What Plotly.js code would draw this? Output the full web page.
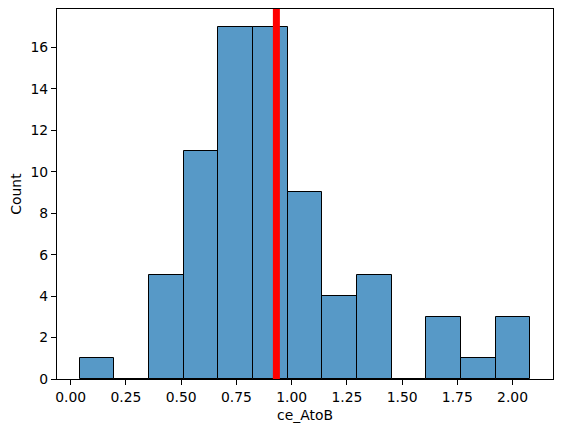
<!DOCTYPE html>
<html>
<head>
<meta charset="utf-8">
<script src="https://cdn.plot.ly/plotly-3.0.1.min.js"></script>
<style>html,body{margin:0;padding:0;background:#fff;}#chart{width:563px;height:432px;}</style>
</head>
<body>
<div id="chart"></div>
<script>
// Histogram of ce_AtoB: 13 bins
const binStart = 0.040;
const binWidth = 0.157;
const counts = [1, 0, 5, 11, 17, 17, 9, 4, 5, 0, 3, 1, 3];
const meanValue = 0.931;
const xTicks = [0, 0.25, 0.5, 0.75, 1.0, 1.25, 1.5, 1.75, 2.0];
const yTicks = [0, 2, 4, 6, 8, 10, 12, 14, 16];

const centers = counts.map((_, i) => binStart + binWidth * (i + 0.5));
const xMin = binStart, xMax = binStart + binWidth * counts.length;
const pad = (xMax - xMin) * 0.05;
const yMax = Math.max(...counts) * 1.05;

const trace = {
  type: 'bar',
  x: centers,
  y: counts,
  width: binWidth,
  marker: {color: 'rgba(31,119,180,0.75)', line: {color: '#000', width: 1}},
  hoverinfo: 'x+y'
};

const font = {family: 'DejaVu Sans, sans-serif', size: 13.9, color: '#000'};
const layout = {
  width: 563, height: 432,
  margin: {l: 57, r: 10, t: 9, b: 53},
  paper_bgcolor: '#fff', plot_bgcolor: '#fff',
  font: font,
  showlegend: false,
  bargap: 0,
  xaxis: {
    range: [xMin - pad, xMax + pad],
    tickvals: xTicks, ticktext: xTicks.map(v => v.toFixed(2)),
    ticks: 'outside', ticklen: 5, tickwidth: 1.1, tickcolor: '#000',
    showline: true, linecolor: '#000', linewidth: 1.1, mirror: true,
    showgrid: false, zeroline: false,
    title: {text: 'ce_AtoB', font: font, standoff: 6}
  },
  yaxis: {
    range: [0, yMax],
    tickvals: yTicks,
    ticks: 'outside', ticklen: 5, tickwidth: 1.1, tickcolor: '#000',
    showline: true, linecolor: '#000', linewidth: 1.1, mirror: true,
    showgrid: false, zeroline: false,
    title: {text: 'Count', font: font, standoff: 5}
  },
  shapes: [{
    type: 'line', xref: 'x', yref: 'paper',
    x0: meanValue, x1: meanValue, y0: 0, y1: 1,
    line: {color: 'red', width: 7}
  }]
};

Plotly.newPlot('chart', [trace], layout, {displayModeBar: false, responsive: false});
</script>
</body>
</html>
